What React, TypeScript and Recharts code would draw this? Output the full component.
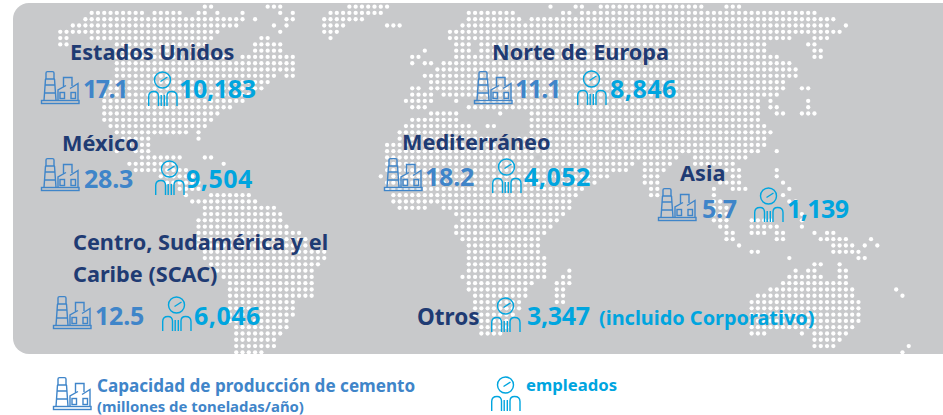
import React from "react";
import { ScatterChart, Scatter, XAxis, YAxis } from "recharts";

const WIDTH = 943;
const HEIGHT = 415;

// regions
const regionNames = ["Estados Unidos", "México", "Norte de Europa", "Mediterráneo", "Asia"];
const capacities = ["17.1", "28.3", "11.1", "18.2", "5.7"];
const employees = ["10,183", "9,504", "8,846", "4,052", "1,139"];
const scacLines = ["Centro, Sudamérica y el", "Caribe (SCAC)"];
const scacCapacity = "12.5";
const scacEmployees = "6,046";
const otherName = "Otros";
const otherEmployees = "3,347";
const otherNote = "(incluido Corporativo)";
const legendCapacity = "Capacidad de producción de cemento";
const legendUnit = "(millones de toneladas/año)";
const legendEmployees = "empleados";

// dotted world map: one entry per grid row, [startCol, endCol, startCol, endCol, ...]
const mapRows: number[][] = [
  [32, 33, 42, 44, 55, 61, 87, 87, 91, 92, 95, 111, 115, 117],
  [14, 22, 24, 28, 31, 32, 34, 34, 38, 38, 44, 44, 46, 46, 52, 60, 74, 81, 89, 90, 92, 129],
  [13, 38, 40, 40, 45, 46, 51, 57, 74, 82, 84, 132],
  [11, 37, 43, 43, 45, 45, 51, 54, 61, 63, 73, 131, 134, 134],
  [9, 34, 44, 44, 51, 53, 71, 133],
  [9, 10, 14, 33, 41, 42, 52, 52, 71, 125, 129, 131],
  [9, 10, 18, 32, 40, 44, 72, 74, 76, 121, 128, 129],
  [18, 31, 40, 44, 67, 67, 72, 74, 76, 121, 129, 130],
  [18, 36, 38, 46, 65, 66, 72, 123, 129, 130],
  [18, 46, 65, 65, 67, 68, 70, 125],
  [18, 46, 69, 126],
  [18, 43, 45, 46, 67, 124, 125, 126],
  [17, 42, 68, 124],
  [17, 41, 65, 66, 68, 124, 127, 128],
  [16, 39, 65, 68, 70, 123],
  [16, 38, 64, 68, 72, 72, 76, 120, 122, 122, 128, 128],
  [16, 36, 65, 67, 74, 120, 122, 123, 128, 128],
  [16, 34, 68, 72, 79, 79, 84, 120, 123, 124, 127, 129],
  [16, 33, 65, 72, 84, 120],
  [17, 32, 64, 74, 77, 78, 84, 121],
  [18, 29, 31, 31, 63, 75, 84, 122],
  [19, 23, 31, 31, 63, 77, 82, 121],
  [20, 23, 61, 79, 82, 121],
  [18, 18, 21, 23, 61, 120, 123, 123],
  [22, 28, 32, 33, 61, 84, 86, 107, 110, 118],
  [20, 27, 35, 35, 61, 100, 102, 106, 110, 116],
  [21, 29, 61, 99, 102, 105, 115, 117, 123, 123],
  [25, 30, 60, 60, 62, 96, 102, 104, 116, 117, 123, 123],
  [26, 31, 61, 94, 102, 104, 114, 117, 124, 124],
  [28, 31, 61, 92, 103, 104, 113, 113, 116, 118, 125, 125],
  [29, 29, 33, 39, 62, 91, 103, 104, 113, 113, 124, 124],
  [30, 40, 62, 90, 113, 114, 125, 126],
  [32, 43, 63, 67, 70, 90, 113, 115],
  [32, 44, 72, 89, 113, 115, 127, 127],
  [31, 44, 73, 88, 113, 115, 119, 122, 127, 127],
  [31, 45, 72, 87, 114, 115, 119, 123, 127, 127],
  [31, 47, 72, 86, 115, 116, 119, 121, 123, 124, 129, 129, 131, 132],
  [31, 48, 73, 85, 115, 116, 123, 124, 130, 134, 138, 138],
  [31, 49, 74, 85, 117, 117, 132, 135, 137, 137, 139, 139],
  [32, 51, 74, 85, 119, 120, 132, 136],
  [32, 51, 74, 86, 125, 125, 136, 137],
  [33, 50, 74, 86, 129, 130, 133, 133],
  [34, 49, 74, 86, 90, 90, 126, 126, 128, 129, 133, 134],
  [35, 49, 73, 86, 89, 90, 125, 130, 133, 134],
  [36, 49, 74, 84, 88, 90, 124, 132, 133, 134],
  [36, 49, 74, 83, 88, 89, 122, 135, 142, 142],
  [36, 49, 75, 83, 88, 89, 120, 135, 143, 143],
  [36, 46, 75, 82, 88, 89, 119, 136],
  [36, 46, 75, 82, 119, 136],
  [36, 46, 75, 81, 119, 136],
  [36, 45, 76, 80, 119, 136],
  [37, 45, 76, 80, 119, 135],
  [37, 44, 76, 79, 119, 121, 127, 127, 129, 134],
  [37, 43, 129, 133],
  [37, 43, 129, 132, 144, 144],
  [37, 41, 143, 143],
];

const NAVY = "#1f3b73";
const BLUE = "#3f85c9";
const CYAN = "#00a5df";
const FONT = "'Noto Sans', sans-serif";

// grid col/row -> pixel comes only from these axis domains
const colDomain: [number, number] = [-0.586, 149.45];
const rowDomain: [number, number] = [-1.061, 64.97];

const mapDots = mapRows.flatMap((runs, row) => {
  const dots: { col: number; row: number }[] = [];
  for (let i = 0; i < runs.length; i += 2) {
    for (let col = runs[i]; col <= runs[i + 1]; col++) dots.push({ col, row });
  }
  return dots;
});

type Note = { x: number; y: number; text?: string; color?: string; size?: number; spacing?: number };

const titleNotes: Note[] = [
  { x: 70, y: 60, text: regionNames[0] },
  { x: 62, y: 151, text: regionNames[1] },
  { x: 492, y: 60, text: regionNames[2] },
  { x: 402, y: 150, text: regionNames[3] },
  { x: 680, y: 181, text: regionNames[4] },
  { x: 73, y: 250, text: scacLines[0] },
  { x: 73, y: 282, text: scacLines[1] },
  { x: 417, y: 325, text: otherName, size: 22.5 },
];

const valueNotes: Note[] = [
  { x: 83, y: 98, text: capacities[0], color: BLUE, spacing: -1.5 },
  { x: 84, y: 188, text: capacities[1], color: BLUE, spacing: -0.2 },
  { x: 515, y: 98, text: capacities[2], color: BLUE, spacing: -1.2 },
  { x: 425, y: 186, text: capacities[3], color: BLUE, spacing: -0.2 },
  { x: 702, y: 218, text: capacities[4], color: BLUE, spacing: -0.3 },
  { x: 95, y: 325, text: scacCapacity, color: BLUE, spacing: -0.2 },
  { x: 179, y: 98, text: employees[0], color: CYAN, spacing: -0.3 },
  { x: 186, y: 188, text: employees[1], color: CYAN, spacing: 0.5 },
  { x: 610, y: 98, text: employees[2], color: CYAN, spacing: 0.5 },
  { x: 524, y: 186, text: employees[3], color: CYAN, spacing: 0.5 },
  { x: 787, y: 218, text: employees[4], color: CYAN, spacing: -0.6 },
  { x: 194, y: 325, text: scacEmployees, color: CYAN, spacing: 0.5 },
  { x: 527, y: 325, text: otherEmployees, color: CYAN, spacing: -0.3 },
];

const smallNotes: Note[] = [
  { x: 599, y: 325, text: otherNote, color: CYAN, size: 19.9 },
  { x: 97, y: 392, text: legendCapacity, color: BLUE, size: 17.1 },
  { x: 97, y: 412, text: legendUnit, color: BLUE, size: 14.9 },
  { x: 526, y: 391, text: legendEmployees, color: CYAN, size: 16.7 },
];

const factorySpots: Note[] = [
  { x: 41, y: 71 },
  { x: 41, y: 158 },
  { x: 53, y: 296 },
  { x: 474, y: 71 },
  { x: 384, y: 158 },
  { x: 658, y: 188 },
  { x: 53, y: 377 },
];

const personSpots: Note[] = [
  { x: 148, y: 71 },
  { x: 155, y: 160 },
  { x: 162, y: 296 },
  { x: 577, y: 70 },
  { x: 492, y: 158 },
  { x: 754, y: 187 },
  { x: 491, y: 297 },
  { x: 491, y: 376 },
];

function MapDot(props: any) {
  return <circle cx={props.cx} cy={props.cy} r={2.15} fill="#ffffff" />;
}

function makeLabel(weight: number, fallbackColor: string, fallbackSize: number) {
  return (props: any) => (
    <text
      x={props.cx}
      y={props.cy}
      fill={props.payload.color || fallbackColor}
      fontFamily={FONT}
      fontWeight={weight}
      fontSize={props.payload.size || fallbackSize}
      letterSpacing={props.payload.spacing || 0}
    >
      {props.payload.text}
    </text>
  );
}

function FactoryIcon(props: any) {
  return (
    <g transform={`translate(${props.cx},${props.cy})`} fill="none" stroke={BLUE} strokeWidth={1.4}>
      <rect x={0.5} y={29.5} width={37.5} height={3} />
      <path d="M5 8V2Q5 0.6 6.5 0.6H11.5Q13 0.6 13 2V8" />
      <path d="M4.3 8H13.7M4.3 14H13.7M3.6 22H14.4M4.5 8L3 29.5M13.5 8L15 29.5" />
      <path d="M17 29.5V19L25 14.5M22.5 16V6.5H31V15M29 17.5L37 12.5V29.5" />
      <rect x={19} y={21.5} width={4.5} height={6} />
      <rect x={30} y={21.5} width={4.5} height={6} />
    </g>
  );
}

function PersonIcon(props: any) {
  return (
    <g transform={`translate(${props.cx},${props.cy})`} fill="none" stroke={CYAN} strokeWidth={1.4}>
      <circle cx={14.5} cy={9} r={8} />
      <path d="M12.5 10.5L19.5 6" />
      <path d="M0.7 35V25.5C0.7 21.5 3 20.5 6 20.5C9 20.5 10.5 22 10.5 25V35" />
      <path d="M29 35V25.5C29 21.5 26.5 20.5 23.5 20.5C20.5 20.5 19 22 19 25V35" />
      <path d="M13.2 24V35M16.3 24V35" />
    </g>
  );
}

export default function App() {
  return (
    <div style={{ position: "absolute", left: 0, top: 0, width: WIDTH, height: HEIGHT, background: "#fff" }}>
      <div
        style={{
          position: "absolute",
          left: 12.5,
          top: 3,
          width: WIDTH - 12.5,
          height: 351,
          background: "#c8c9cb",
          borderRadius: "16px 0 0 16px",
        }}
      />
      <div style={{ position: "absolute", left: 0, top: 0 }}>
        <ScatterChart width={WIDTH} height={HEIGHT} margin={{ top: 0, right: 0, bottom: 0, left: 0 }}>
          <XAxis xAxisId="grid" type="number" dataKey="col" domain={colDomain} hide />
          <YAxis yAxisId="grid" type="number" dataKey="row" domain={rowDomain} reversed hide />
          <XAxis xAxisId="page" type="number" dataKey="x" domain={[0, WIDTH]} hide />
          <YAxis yAxisId="page" type="number" dataKey="y" domain={[0, HEIGHT]} reversed hide />
          <Scatter xAxisId="grid" yAxisId="grid" data={mapDots} shape={MapDot} isAnimationActive={false} />
          <Scatter xAxisId="page" yAxisId="page" data={factorySpots} shape={FactoryIcon} isAnimationActive={false} />
          <Scatter xAxisId="page" yAxisId="page" data={personSpots} shape={PersonIcon} isAnimationActive={false} />
          <Scatter xAxisId="page" yAxisId="page" data={titleNotes} shape={makeLabel(700, NAVY, 21.7)} isAnimationActive={false} />
          <Scatter xAxisId="page" yAxisId="page" data={valueNotes} shape={makeLabel(700, BLUE, 25)} isAnimationActive={false} />
          <Scatter xAxisId="page" yAxisId="page" data={smallNotes} shape={makeLabel(700, BLUE, 16)} isAnimationActive={false} />
        </ScatterChart>
      </div>
    </div>
  );
}
